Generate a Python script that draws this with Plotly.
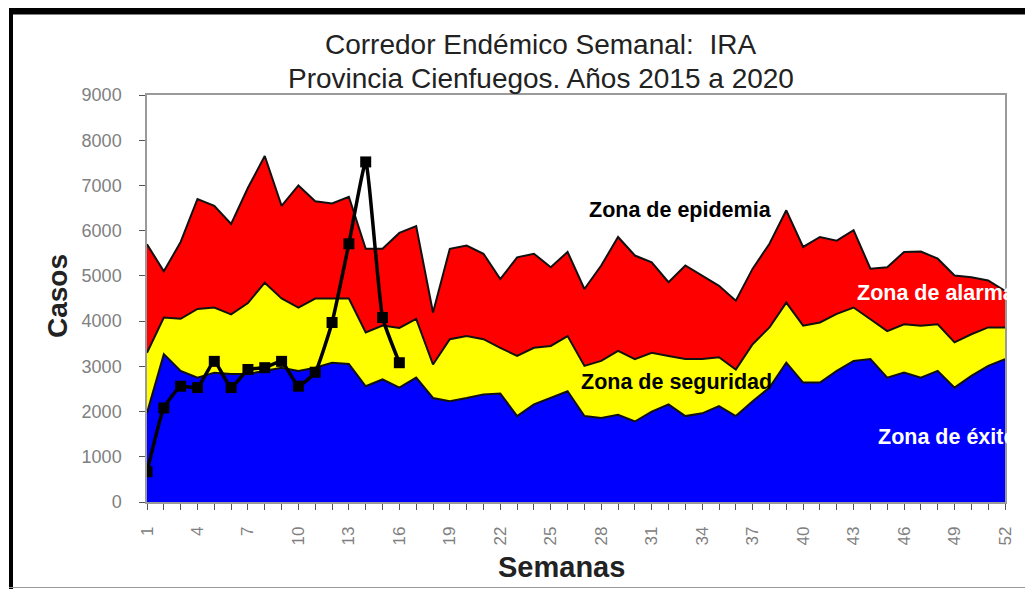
import plotly.graph_objects as go

# semanas epidemiologicas
semanas = list(range(1, 53))

# limite superior de la zona de exito (azul)
zona_exito = [1970, 3270, 2900, 2750, 2860, 2830, 2830, 2900, 2970, 2900,
              2970, 3080, 3050, 2560, 2710, 2530, 2750, 2300, 2230, 2300,
              2380, 2400, 1900, 2160, 2300, 2450, 1900, 1860, 1930, 1780,
              2000, 2160, 1900, 1960, 2120, 1900, 2230, 2530, 3080, 2640,
              2640, 2900, 3120, 3160, 2750, 2860, 2750, 2900, 2530, 2790,
              3010, 3160]

# limite superior de la zona de seguridad (amarillo)
zona_seguridad = [3300, 4080, 4050, 4270, 4300, 4150, 4400, 4850, 4500, 4300,
                  4500, 4500, 4500, 3750, 3900, 3850, 4050, 3040, 3600, 3670,
                  3600, 3410, 3230, 3410, 3450, 3670, 3010, 3120, 3340, 3160,
                  3300, 3230, 3160, 3160, 3200, 2930, 3490, 3860, 4410, 3900,
                  3970, 4160, 4300, 4040, 3780, 3930, 3900, 3930, 3530, 3710,
                  3860, 3860]

# limite superior de la zona de alarma (rojo)
zona_alarma = [5700, 5100, 5750, 6700, 6550, 6150, 6950, 7650, 6550, 7000,
               6650, 6600, 6750, 5600, 5600, 5950, 6100, 4190, 5600, 5670,
               5490, 4930, 5410, 5490, 5190, 5530, 4710, 5230, 5860, 5450,
               5300, 4860, 5230, 5010, 4780, 4450, 5160, 5710, 6450, 5640,
               5860, 5780, 6010, 5160, 5190, 5530, 5540, 5380, 5010, 4970,
               4900, 4670]

# casos observados 2020
semanas_obs = list(range(1, 17))
casos_obs = [670, 2080, 2560, 2530, 3110, 2530, 2930, 2970, 3110, 2560,
             2870, 3970, 5710, 7520, 4080, 3080]

FONT = "Liberation Sans, Arial, sans-serif"

# la pagina tiene 8px de margen en el body
OFF = 8
W, H = 1033 - OFF, 589 - OFF
L, R, T, B = 147, 1005, 95, 502  # bordes del area de trazado en pantalla


def px(p):
    return (p - L) / (R - L)


def py(q):
    return (B - q) / (B - T)


fig = go.Figure()

fig.add_trace(go.Scatter(
    x=semanas, y=zona_exito, mode="lines", fill="tozeroy",
    fillcolor="#0000FF", line=dict(color="#111111", width=2),
    showlegend=False, hoverinfo="skip",
))
fig.add_trace(go.Scatter(
    x=semanas, y=zona_seguridad, mode="lines", fill="tonexty",
    fillcolor="#FFFF00", line=dict(color="#111111", width=2),
    showlegend=False, hoverinfo="skip",
))
fig.add_trace(go.Scatter(
    x=semanas, y=zona_alarma, mode="lines", fill="tonexty",
    fillcolor="#FF0000", line=dict(color="#111111", width=2),
    showlegend=False, hoverinfo="skip",
))
fig.add_trace(go.Scatter(
    x=semanas_obs, y=casos_obs, mode="lines+markers",
    line=dict(color="#000000", width=3.5, shape="spline", smoothing=0.4),
    marker=dict(symbol="square", size=11, color="#000000"),
    showlegend=False,
))

# etiquetas de las zonas
zf = dict(family=FONT, size=21.5)
fig.add_annotation(x=32.7, y=6460, text="<b>Zona de epidemia</b>", showarrow=False,
                   font=dict(zf, color="#000000"))
fig.add_annotation(x=43.1, y=4620, text="<b>Zona de alarma</b>", showarrow=False,
                   xanchor="left", font=dict(zf, color="#FFFFFF"))
fig.add_annotation(x=32.45, y=2655, text="<b>Zona de seguridad</b>", showarrow=False,
                   font=dict(zf, color="#000000"))
fig.add_annotation(x=44.35, y=1440, text="<b>Zona de éxito</b>", showarrow=False,
                   xanchor="left", font=dict(zf, color="#FFFFFF"))

# titulo y titulos de ejes
tf = dict(family=FONT, size=28, color="#222222")
fig.add_annotation(xref="paper", yref="paper", x=px(540), y=py(45),
                   text="Corredor Endémico Semanal:  IRA", showarrow=False,
                   xanchor="center", yanchor="middle", font=tf)
fig.add_annotation(xref="paper", yref="paper", x=px(541), y=py(78),
                   text="Provincia Cienfuegos. Años 2015 a 2020", showarrow=False,
                   xanchor="center", yanchor="middle", font=tf)
fig.add_annotation(xref="paper", yref="paper", x=px(561), y=py(567),
                   text="<b>Semanas</b>", showarrow=False,
                   xanchor="center", yanchor="middle",
                   font=dict(family=FONT, size=29, color="#222222"))
fig.add_annotation(xref="paper", yref="paper", x=px(57), y=py(296),
                   text="<b>Casos</b>", showarrow=False, textangle=-90,
                   xanchor="center", yanchor="middle",
                   font=dict(family=FONT, size=28, color="#222222"))

# marco exterior de la imagen
fig.add_shape(type="line", xref="paper", yref="paper", x0=px(11), x1=px(11),
              y0=py(9), y1=py(589), line=dict(color="#000000", width=4))
fig.add_shape(type="line", xref="paper", yref="paper", x0=px(9), x1=px(1033),
              y0=py(11), y1=py(11), line=dict(color="#000000", width=7))
fig.add_shape(type="line", xref="paper", yref="paper", x0=px(9), x1=px(1033),
              y0=py(587.5), y1=py(587.5), line=dict(color="#999999", width=1))

fig.update_layout(
    width=W, height=H,
    margin=dict(l=L - OFF, r=W - (R - OFF), t=T - OFF, b=H - (B - OFF)),
    paper_bgcolor="white", plot_bgcolor="white",
    font=dict(family=FONT, color="#333333"),
    xaxis=dict(
        range=[1, 52], tickmode="linear", tick0=1, dtick=3,
        tickangle=-90, ticks="outside", ticklen=6, tickcolor="#555555",
        minor=dict(ticks="outside", dtick=1, tick0=1, ticklen=6, tickcolor="#555555"),
        tickfont=dict(family=FONT, size=17, color="#808080"),
        ticklabelstandoff=10,
        showgrid=False, zeroline=False,
        showline=True, linecolor="#9a9a9a", linewidth=1.5, mirror=True,
    ),
    yaxis=dict(
        range=[0, 9000], tickmode="linear", tick0=0, dtick=1000,
        ticks="outside", ticklen=6, tickcolor="#555555",
        tickfont=dict(family=FONT, size=18, color="#808080"),
        ticklabelstandoff=14,
        showgrid=False, zeroline=False,
        showline=True, linecolor="#9a9a9a", linewidth=1.5, mirror=True,
    ),
)

fig.write_html("out.html")
